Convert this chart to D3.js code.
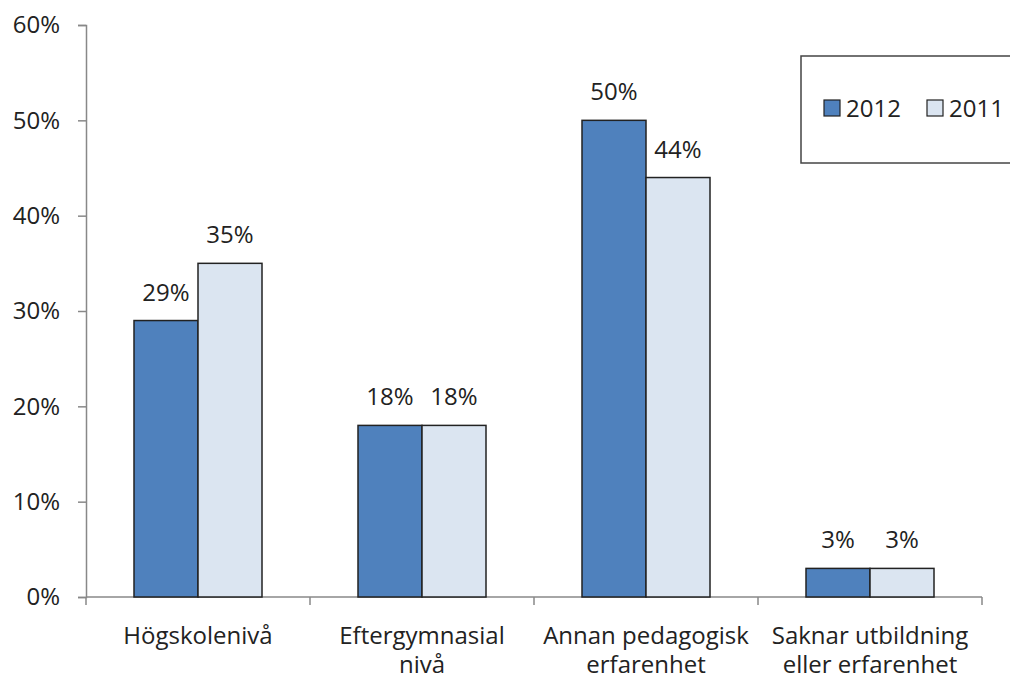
<!DOCTYPE html>
<html>
<head>
<meta charset="utf-8">
<script src="https://cdn.jsdelivr.net/npm/d3@7"></script>
<style>
  body { margin: 0; background: #fff; }
  text { font-family: "Open Sans", "Liberation Sans", sans-serif; fill: #222; }
</style>
</head>
<body>
<svg id="chart" width="1010" height="677"></svg>
<script>
const categories = [
  ["Högskolenivå"],
  ["Eftergymnasial", "nivå"],
  ["Annan pedagogisk", "erfarenhet"],
  ["Saknar utbildning", "eller erfarenhet"]
];
const seriesNames = ["2012", "2011"];
const values2012 = [29, 18, 50, 3];
const values2011 = [35, 18, 44, 3];
const yTicks = [0, 10, 20, 30, 40, 50, 60];
const colors = ["#4F81BD", "#DBE5F1"];

const svg = d3.select("#chart");
const plotLeft = 86, plotRight = 982, plotTop = 25, plotBottom = 597;
const fontSize = "24px";

const x = d3.scaleBand().domain(d3.range(categories.length)).range([plotLeft, plotRight]);
const inner = d3.scaleBand().domain(seriesNames).range([48, x.bandwidth() - 48]);
const y = d3.scaleLinear().domain([0, 60]).range([plotBottom, plotTop]);

// y axis
const yAxis = svg.append("g").attr("transform", `translate(${plotLeft},0)`)
  .call(d3.axisLeft(y).tickValues(yTicks).tickSize(8).tickPadding(18).tickFormat(d => d + "%"));
yAxis.select(".domain").attr("stroke", "#888").attr("stroke-width", 1.5);
yAxis.selectAll(".tick line").attr("stroke", "#888").attr("stroke-width", 1.5);
yAxis.selectAll("text").style("font-size", fontSize).attr("fill", "#222")
  .style("font-family", "'Open Sans', sans-serif");

// x axis line + ticks at band boundaries
const xg = svg.append("g");
xg.append("line").attr("x1", plotLeft).attr("x2", plotRight).attr("y1", plotBottom).attr("y2", plotBottom)
  .attr("stroke", "#888").attr("stroke-width", 1.5);
const bounds = d3.range(categories.length + 1).map(i => i < categories.length ? x(i) : x(i - 1) + x.bandwidth());
xg.selectAll(".xt").data(bounds).join("line")
  .attr("x1", d => d).attr("x2", d => d).attr("y1", plotBottom).attr("y2", plotBottom + 8)
  .attr("stroke", "#888").attr("stroke-width", 1.5);

// category labels
categories.forEach((lines, i) => {
  const t = svg.append("text")
    .attr("x", x(i) + x.bandwidth() / 2)
    .attr("text-anchor", "middle")
    .style("font-size", fontSize);
  lines.forEach((ln, j) => {
    t.append("tspan").attr("x", x(i) + x.bandwidth() / 2).attr("y", 644 + j * 29).text(ln);
  });
});

// bars
const series = [values2012, values2011];
series.forEach((vals, s) => {
  const g = svg.append("g");
  g.selectAll("rect").data(vals).join("rect")
    .attr("x", (d, i) => x(i) + inner(seriesNames[s]))
    .attr("y", d => y(d))
    .attr("width", inner.bandwidth())
    .attr("height", d => y(0) - y(d))
    .attr("fill", colors[s])
    .attr("stroke", "#222")
    .attr("stroke-width", 1.5);
  g.selectAll("text").data(vals).join("text")
    .attr("x", (d, i) => x(i) + inner(seriesNames[s]) + inner.bandwidth() / 2)
    .attr("y", d => y(d) - 20)
    .attr("text-anchor", "middle")
    .style("font-size", fontSize)
    .text(d => d + "%");
});

// legend
const lg = svg.append("g");
lg.append("rect").attr("x", 801).attr("y", 56).attr("width", 220).attr("height", 107)
  .attr("fill", "#fff").attr("stroke", "#444").attr("stroke-width", 1.5);
const legendX = [824, 927];
seriesNames.forEach((name, s) => {
  lg.append("rect").attr("x", legendX[s]).attr("y", 100).attr("width", 16).attr("height", 16)
    .attr("fill", colors[s]).attr("stroke", "#222").attr("stroke-width", 1.2);
  lg.append("text").attr("x", legendX[s] + 22).attr("y", 117)
    .style("font-size", fontSize).text(name);
});
</script>
</body>
</html>
